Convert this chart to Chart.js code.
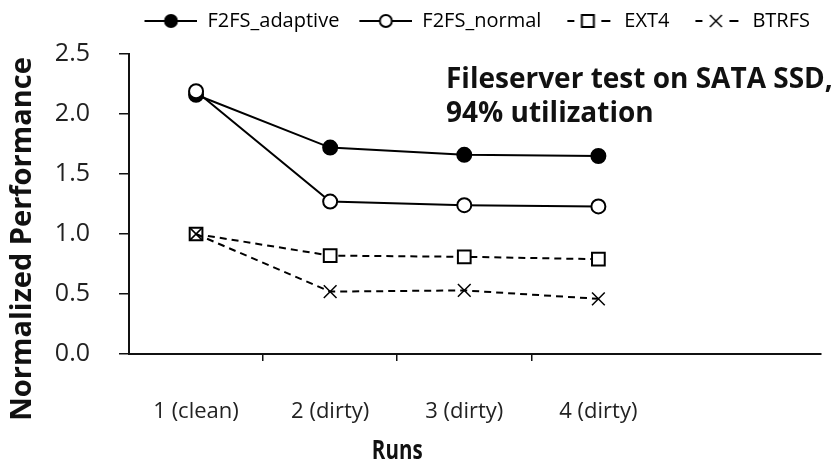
<!DOCTYPE html>
<html>
<head>
<meta charset="utf-8">
<script src="https://cdn.jsdelivr.net/npm/chart.js@4.4.0/dist/chart.umd.min.js"></script>
<style>
  html, body { margin: 0; padding: 0; background: #fff; }
</style>
</head>
<body>
<canvas id="grafica" width="834" height="465"></canvas>
<script>
// data
const runs = ['1 (clean)', '2 (dirty)', '3 (dirty)', '4 (dirty)'];
const seriesNames = ['F2FS_adaptive', 'F2FS_normal', 'EXT4', 'BTRFS'];
const f2fsAdaptive = [2.16, 1.72, 1.66, 1.65];
const f2fsNormal = [2.19, 1.27, 1.24, 1.23];
const ext4 = [1.00, 0.82, 0.81, 0.79];
const btrfs = [1.00, 0.52, 0.53, 0.46];
const yTicks = [0, 0.5, 1.0, 1.5, 2.0, 2.5];
const runBorders = [1.5, 2.5, 3.5];

const FONT = "'Open Sans', sans-serif";
const INK = '#111';

function points(values) {
  return values.map((v, i) => ({ x: i + 1, y: v }));
}

// little line+marker picture for the legend
function legendIcon(kind) {
  const c = document.createElement('canvas');
  c.width = 62; c.height = 20;
  const g = c.getContext('2d');
  const cy = 10, left = 9, right = 62;
  const cx = (left + right) / 2;
  g.strokeStyle = '#000';
  g.lineWidth = 2;
  g.beginPath();
  if (kind === 'adaptive' || kind === 'normal') {
    g.moveTo(left, cy); g.lineTo(right, cy);
  } else {
    g.moveTo(left + 6, cy); g.lineTo(left + 13, cy);
    g.moveTo(right - 13, cy); g.lineTo(right - 4, cy);
  }
  g.stroke();
  g.beginPath();
  if (kind === 'adaptive' || kind === 'normal') {
    g.arc(cx, cy, 6, 0, Math.PI * 2);
    g.fillStyle = kind === 'adaptive' ? '#000' : '#fff';
    g.fill(); g.stroke();
  } else if (kind === 'ext4') {
    g.fillStyle = '#fff';
    g.rect(cx - 6, cy - 6, 12, 12);
    g.fill(); g.stroke();
  } else {
    g.lineWidth = 1.5;
    g.moveTo(cx - 6, cy - 6); g.lineTo(cx + 6, cy + 6);
    g.moveTo(cx + 6, cy - 6); g.lineTo(cx - 6, cy + 6);
    g.stroke();
  }
  return c;
}
const icons = [legendIcon('adaptive'), legendIcon('normal'), legendIcon('ext4'), legendIcon('btrfs')];

const textPlugin = {
  id: 'texts',
  beforeInit(chart) {
    const fit = chart.legend.fit;
    chart.legend.fit = function () {
      fit.bind(chart.legend)();
      this.height += 13;
    };
  },
  afterDraw(chart) {
    const ctx = chart.ctx;
    const xs = chart.scales.x;
    ctx.save();
    ctx.fillStyle = INK;
    ctx.textAlign = 'center';
    ctx.textBaseline = 'middle';
    // axis titles
    ctx.save();
    ctx.translate(xs.getPixelForValue(2.5), 451);
    ctx.scale(0.76, 1);
    ctx.font = "bold 27px " + FONT;
    ctx.fillText('Runs', 0, 0);
    ctx.restore();
    ctx.save();
    ctx.translate(23, 239);
    ctx.rotate(-Math.PI / 2);
    ctx.font = "bold 29px " + FONT;
    ctx.fillText('Normalized Performance', 0, 0);
    ctx.restore();
    // note in the plot
    ctx.textAlign = 'left';
    ctx.textBaseline = 'alphabetic';
    ctx.font = "bold 28px " + FONT;
    ctx.fillText('Fileserver test on SATA SSD,', 446, 88);
    ctx.fillText('94% utilization', 446, 122);
    ctx.restore();
  }
};

const graph = document.getElementById('grafica');

const data = {
  datasets: [
    {
      label: seriesNames[0], data: points(f2fsAdaptive), order: 2,
      borderColor: '#000', borderWidth: 2,
      pointStyle: 'circle', pointRadius: 7, pointBorderWidth: 2,
      pointBackgroundColor: '#000', pointBorderColor: '#000'
    },
    {
      label: seriesNames[1], data: points(f2fsNormal), order: 1,
      borderColor: '#000', borderWidth: 2,
      pointStyle: 'circle', pointRadius: 7, pointBorderWidth: 2,
      pointBackgroundColor: '#fff', pointBorderColor: '#000'
    },
    {
      label: seriesNames[2], data: points(ext4), order: 3,
      borderColor: '#000', borderWidth: 2, borderDash: [7, 5],
      pointStyle: 'rect', pointRadius: 9, pointBorderWidth: 2,
      pointBackgroundColor: '#fff', pointBorderColor: '#000'
    },
    {
      label: seriesNames[3], data: points(btrfs), order: 0,
      borderColor: '#000', borderWidth: 2, borderDash: [7, 5],
      pointStyle: 'crossRot', pointRadius: 9, pointBorderWidth: 1.5,
      pointBackgroundColor: '#fff', pointBorderColor: '#000'
    }
  ]
};

const config = {
  type: 'line',
  data: data,
  options: {
    responsive: false,
    animation: false,
    layout: { padding: { left: 0, right: 13, top: 0, bottom: 0 } },
    plugins: {
      tooltip: { enabled: false },
      legend: {
        position: 'top',
        align: 'end',
        labels: {
          usePointStyle: true,
          pointStyleWidth: 62,
          padding: 11,
          color: '#222',
          font: { family: FONT, size: 20 },
          generateLabels: () => seriesNames.map((n, i) => ({
            text: n, pointStyle: icons[i], datasetIndex: i,
            fillStyle: '#000', strokeStyle: '#000', lineWidth: 0, hidden: false
          }))
        }
      }
    },
    scales: {
      x: {
        type: 'linear', position: 'bottom', min: 0.5, max: 5.66, weight: 0,
        afterBuildTicks: s => { s.ticks = runBorders.map(v => ({ value: v })); },
        ticks: { display: false },
        grid: { drawOnChartArea: false, tickLength: 7, color: INK, lineWidth: 1.5 },
        border: { display: true, color: INK, width: 2 }
      },
      xl: {
        type: 'linear', position: 'bottom', min: 0.5, max: 5.66, weight: 1,
        afterBuildTicks: s => { s.ticks = runs.map((r, i) => ({ value: i + 1 })); },
        afterFit: s => { s.height = 104; },
        ticks: {
          autoSkip: false, maxRotation: 0, padding: 38, color: '#222',
          font: { family: FONT, size: 22 },
          callback: v => runs[v - 1] || ''
        },
        grid: { display: false, drawTicks: false },
        border: { display: false }
      },
      y: {
        min: 0, max: 2.5,
        afterBuildTicks: s => { s.ticks = yTicks.map(v => ({ value: v })); },
        afterFit: s => { s.width = 129; },
        ticks: {
          padding: 29, color: '#222',
          font: { family: FONT, size: 25 },
          callback: v => v.toFixed(1)
        },
        grid: { drawOnChartArea: false, tickLength: 10, color: INK, lineWidth: 1.5 },
        border: { display: true, color: INK, width: 2 }
      }
    }
  },
  plugins: [textPlugin]
};

new Chart(graph, config);
</script>
</body>
</html>
